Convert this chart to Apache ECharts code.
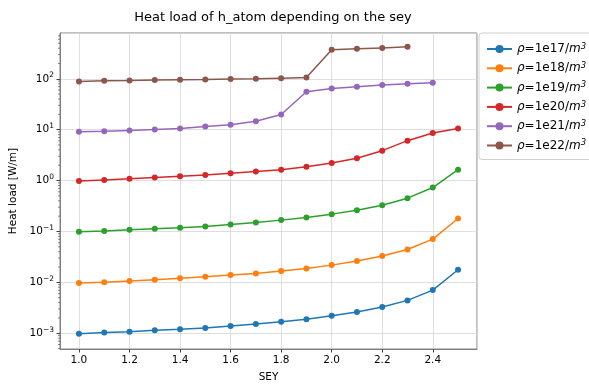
<!DOCTYPE html>
<html>
<head>
<meta charset="utf-8">
<script src="https://cdn.jsdelivr.net/npm/echarts@6/dist/echarts.min.js"></script>
<style>
html,body{margin:0;padding:0;background:#fff;}
#c{width:589px;height:384px;}
</style>
</head>
<body>
<div id="c"></div>
<script>
const titleText = 'Heat load of h_atom depending on the sey';
const xName = 'SEY';
const yName = 'Heat load [W/m]';
const densities = ['1e17', '1e18', '1e19', '1e20', '1e21', '1e22'];
const colors = ['#1f77b4', '#ff7f0e', '#2ca02c', '#d62728', '#9467bd', '#8c564b'];
const sey = [1.0, 1.1, 1.2, 1.3, 1.4, 1.5, 1.6, 1.7, 1.8, 1.9, 2.0, 2.1, 2.2, 2.3, 2.4, 2.5];
const q17 = [0.00098, 0.00103, 0.00107, 0.00114, 0.00120, 0.00127, 0.00138, 0.00152, 0.00169, 0.00188, 0.00221, 0.00261, 0.00328, 0.00442, 0.00705, 0.0177];
const q18 = [0.0097, 0.0101, 0.0106, 0.0113, 0.0120, 0.0129, 0.0139, 0.0150, 0.0167, 0.0188, 0.0218, 0.0262, 0.0329, 0.0443, 0.0708, 0.180];
const q19 = [0.0986, 0.1016, 0.108, 0.113, 0.118, 0.125, 0.137, 0.150, 0.167, 0.188, 0.219, 0.262, 0.328, 0.451, 0.729, 1.64];
const q20 = [0.985, 1.03, 1.08, 1.15, 1.22, 1.29, 1.39, 1.50, 1.64, 1.86, 2.22, 2.74, 3.87, 6.08, 8.61, 10.6];
const q21 = [9.15, 9.27, 9.68, 10.1, 10.6, 11.5, 12.5, 14.6, 19.9, 55.6, 64.5, 69.7, 75.2, 79.8, 83.5];
const q22 = [88.5, 91.4, 92.6, 94.4, 95.6, 96.9, 98.6, 100, 103, 106, 371, 388, 405, 424];
const allQ = [q17, q18, q19, q20, q21, q22];

const FONT = 'DejaVu Sans';
const names = densities.map(d => 'ρ=' + d + '/m³');

const series = allQ.map((q, i) => ({
  name: names[i],
  type: 'line',
  data: q.map((v, j) => [sey[j], v]),
  symbol: 'circle',
  symbolSize: 6,
  lineStyle: { width: 1.5, color: colors[i] },
  itemStyle: { color: colors[i] },
  emphasis: { disabled: true },
  animation: false
}));

function decadeLabel(v) {
  const e = Math.round(Math.log10(v));
  const s = String(e).replace('-', '−');
  return '10{s|' + s + '}';
}

const chart = echarts.init(document.getElementById('c'), null, { renderer: 'canvas' });
chart.setOption({
  animation: false,
  backgroundColor: '#fff',
  color: colors,
  title: {
    text: titleText,
    left: 268, top: 6, textAlign: 'center',
    textStyle: { fontFamily: FONT, fontSize: 13, fontWeight: 'normal', color: '#000' }
  },
  grid: {
    left: 60, right: 112, top: 33, bottom: 35,
    outerBoundsMode: 'none', containLabel: false,
    show: true, borderColor: '#808080', borderWidth: 1, backgroundColor: 'transparent'
  },
  legend: {
    orient: 'vertical',
    left: 479, top: 33,
    padding: [9, 6, 7, 7],
    itemWidth: 25, itemHeight: 10, itemGap: 5.3,
    backgroundColor: '#fff',
    borderColor: '#d0d0d0', borderWidth: 1, borderRadius: 3,
    data: names,
    formatter: function (n) {
      const d = densities[names.indexOf(n)];
      return '{i|ρ}{t|=' + d + '/}{i|m}{s|3}';
    },
    textStyle: {
      fontFamily: FONT, fontSize: 12, color: '#000',
      rich: {
        i: { fontFamily: FONT, fontSize: 12, fontStyle: 'italic', color: '#000', lineHeight: 14 },
        t: { fontFamily: FONT, fontSize: 12, color: '#000', lineHeight: 14 },
        s: { fontFamily: FONT, fontSize: 8.5, fontStyle: 'italic', color: '#000', verticalAlign: 'top', lineHeight: 14, padding: [0, 0, 5, 0] }
      }
    }
  },
  xAxis: {
    type: 'value',
    min: 0.925, max: 2.575,
    splitNumber: 8,
    name: xName, nameLocation: 'middle', nameGap: 23,
    nameTextStyle: { fontFamily: FONT, fontSize: 10.5, color: '#000' },
    axisLine: { show: true, lineStyle: { color: '#808080', width: 1 } },
    axisTick: { show: true, length: 3.5, lineStyle: { color: '#404040' } },
    axisLabel: {
      showMinLabel: false, showMaxLabel: false, margin: 6,
      fontFamily: FONT, fontSize: 10.5, color: '#000',
      formatter: v => v.toFixed(1)
    },
    splitLine: { show: true, lineStyle: { color: '#d5d5d5', width: 0.8 } }
  },
  yAxis: {
    type: 'log', logBase: 10,
    min: 0.00049, max: 794,
    splitNumber: 6,
    name: yName, nameLocation: 'middle', nameGap: 40,
    nameTextStyle: { fontFamily: FONT, fontSize: 10.5, color: '#000' },
    axisLine: { show: true, lineStyle: { color: '#808080', width: 1 } },
    axisTick: { show: true, length: 3.5, lineStyle: { color: '#404040' } },
    axisLabel: {
      showMinLabel: false, showMaxLabel: false, margin: 6,
      fontFamily: FONT, fontSize: 10.5, color: '#000',
      formatter: decadeLabel,
      rich: { s: { fontFamily: FONT, fontSize: 7.5, color: '#000', verticalAlign: 'top', padding: [0, 0, 7, 0] } }
    },
    splitLine: { show: true, lineStyle: { color: '#d5d5d5', width: 0.8 } }
  },
  series: series
});

// minor log ticks (2..9 x 10^n) placed through the axis scale
const minorEls = [];
for (let e = -4; e <= 2; e++) {
  for (let k = 2; k <= 9; k++) {
    const v = k * Math.pow(10, e);
    if (v < 0.00049 || v > 794) continue;
    const py = chart.convertToPixel({ yAxisIndex: 0 }, v);
    const px = chart.convertToPixel({ xAxisIndex: 0 }, 0.925);
    minorEls.push({
      type: 'line', silent: true,
      shape: { x1: px - 2, y1: py, x2: px, y2: py },
      style: { stroke: '#404040', lineWidth: 0.6 }
    });
  }
}
chart.setOption({ graphic: { elements: minorEls } });
</script>
</body>
</html>
